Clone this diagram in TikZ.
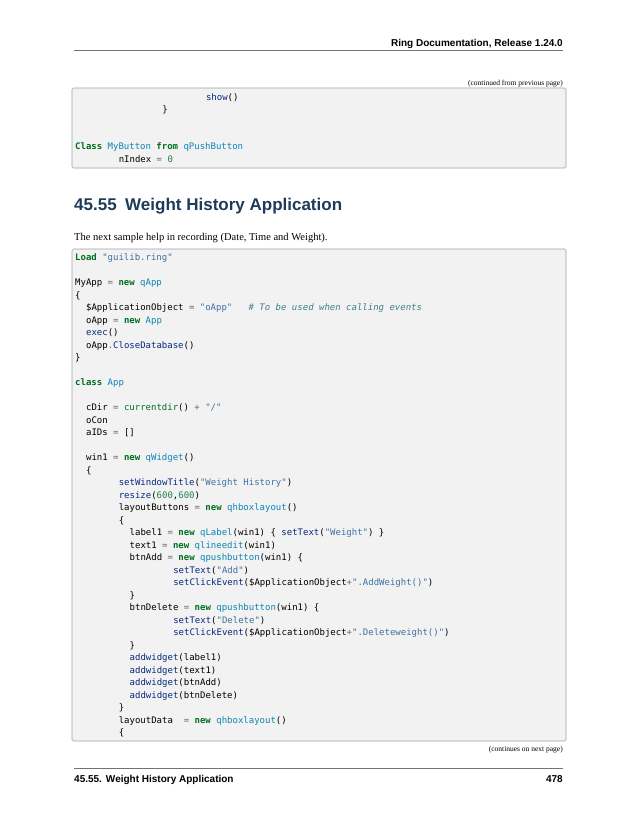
\documentclass[tikz,border=0pt]{standalone}
\usepackage{fontspec}
\setmainfont{Liberation Serif}
\newfontfamily\hdfont{Liberation Sans}
\newfontfamily\cf{DejaVu Sans Mono}
\definecolor{kwc}{HTML}{007020}
\definecolor{ncc}{HTML}{0E84B5}
\definecolor{fnc}{HTML}{06287E}
\definecolor{stc}{HTML}{4070A0}
\definecolor{nmc}{HTML}{208050}
\definecolor{opc}{HTML}{666666}
\definecolor{cmc}{HTML}{408090}
\definecolor{headc}{HTML}{1F3B5A}
\definecolor{boxbg}{HTML}{F2F2F2}
\definecolor{boxln}{HTML}{A0A0A0}
\newcommand\kw[1]{\textcolor{kwc}{\bfseries #1}}
\newcommand\nc[1]{\textcolor{ncc}{#1}}
\newcommand\fn[1]{\textcolor{fnc}{#1}}
\newcommand\st[1]{\textcolor{stc}{#1}}
\newcommand\nm[1]{\textcolor{nmc}{#1}}
\newcommand\op[1]{\textcolor{opc}{#1}}
\newcommand\cm[1]{\textcolor{cmc}{\itshape #1}}
\newcommand\bi[1]{\textcolor{kwc}{#1}}
\tikzset{
  code/.style={anchor=base west, inner sep=0pt, font=\fontsize{9}{12}\cf},
  codebox/.style={draw=boxln, fill=boxbg, line width=0.6pt, rounded corners=1.5pt},
  rulel/.style={draw=black!55, line width=0.8pt},
  cont/.style={anchor=base east, inner sep=0pt, font=\fontsize{7.5}{9}\selectfont},
}
\begin{document}
\begin{tikzpicture}[x=1pt,y=-1pt]
\useasboundingbox (0,0) rectangle (638,825);
\fill[white] (0,0) rectangle (638,825);
% header
\node[anchor=base east, inner sep=0pt, font=\fontsize{10}{12}\hdfont\bfseries] (hdr) at (563,46) {Ring Documentation, Release 1.24.0};
\draw[rulel] (74,50) -- (563,50);
\node[cont] (cfp) at (563,85) {(continued from previous page)};
% box 1
\draw[codebox] (72,88) rectangle (566,168);
\node[code] (b1a) at ({75+24*5.45},100) {\fn{show}()};
\node[code] (b1b) at ({75+16*5.45},112) {\}};
\node[code] (b1c) at (75,149.5) {\kw{Class} \nc{MyButton} \kw{from} \nc{qPushButton}};
\node[code] (b1d) at ({75+8*5.45},162) {nIndex \op{=} \nm{0}};
% heading
\node[anchor=base west, inner sep=0pt, font=\fontsize{17}{20}\hdfont\bfseries, text=headc] (head) at (74,210) {45.55\hspace{0.5em}Weight History Application};
\node[anchor=base west, inner sep=0pt, font=\fontsize{10.5}{12}\selectfont] (para) at (74,240.5) {The next sample help in recording (Date, Time and Weight).};
% box 2
\draw[codebox] (72,249) rectangle (566,741);
\foreach \i/\ind/\txt in {
 0/0/{\kw{Load} \st{"guilib.ring"}},
 2/0/{MyApp \op{=} \kw{new} \nc{qApp}},
 3/0/{\{},
 4/2/{\$ApplicationObject \op{=} \st{"oApp"}~~~\cm{\# To be used when calling events}},
 5/2/{oApp \op{=} \kw{new} \nc{App}},
 6/2/{\fn{exec}()},
 7/2/{oApp\op{.}\fn{CloseDatabase}()},
 8/0/{\}},
 10/0/{\kw{class} \nc{App}},
 12/2/{cDir \op{=} \bi{currentdir}() \op{+} \st{"/"}},
 13/2/{oCon},
 14/2/{aIDs \op{=} []},
 16/2/{win1 \op{=} \kw{new} \nc{qWidget}()},
 17/2/{\{},
 18/8/{\fn{setWindowTitle}(\st{"Weight History"})},
 19/8/{\fn{resize}(\nm{600},\nm{600})},
 20/8/{layoutButtons \op{=} \kw{new} \nc{qhboxlayout}()},
 21/8/{\{},
 22/10/{label1 \op{=} \kw{new} \nc{qLabel}(win1) \{ \fn{setText}(\st{"Weight"}) \}},
 23/10/{text1 \op{=} \kw{new} \nc{qlineedit}(win1)},
 24/10/{btnAdd \op{=} \kw{new} \nc{qpushbutton}(win1) \{},
 25/18/{\fn{setText}(\st{"Add"})},
 26/18/{\fn{setClickEvent}(\$ApplicationObject\op{+}\st{".AddWeight()"})},
 27/10/{\}},
 28/10/{btnDelete \op{=} \kw{new} \nc{qpushbutton}(win1) \{},
 29/18/{\fn{setText}(\st{"Delete"})},
 30/18/{\fn{setClickEvent}(\$ApplicationObject\op{+}\st{".Deleteweight()"})},
 31/10/{\}},
 32/10/{\fn{addwidget}(label1)},
 33/10/{\fn{addwidget}(text1)},
 34/10/{\fn{addwidget}(btnAdd)},
 35/10/{\fn{addwidget}(btnDelete)},
 36/8/{\}},
 37/8/{layoutData~~\op{=} \kw{new} \nc{qhboxlayout}()},
 38/8/{\{}}
 {\node[code] (c\i) at ({75+\ind*5.45},{260.5+12.5*\i}) {\txt};}
\node[cont] (cnp) at (563,751) {(continues on next page)};
% footer
\draw[rulel] (74,768) -- (563,768);
\node[anchor=base west, inner sep=0pt, font=\fontsize{10}{12}\hdfont\bfseries] (ftl) at (74,782) {45.55.\hspace{0.4em}Weight History Application};
\node[anchor=base east, inner sep=0pt, font=\fontsize{10}{12}\hdfont\bfseries] (ftr) at (563,782) {478};
\end{tikzpicture}
\end{document}
